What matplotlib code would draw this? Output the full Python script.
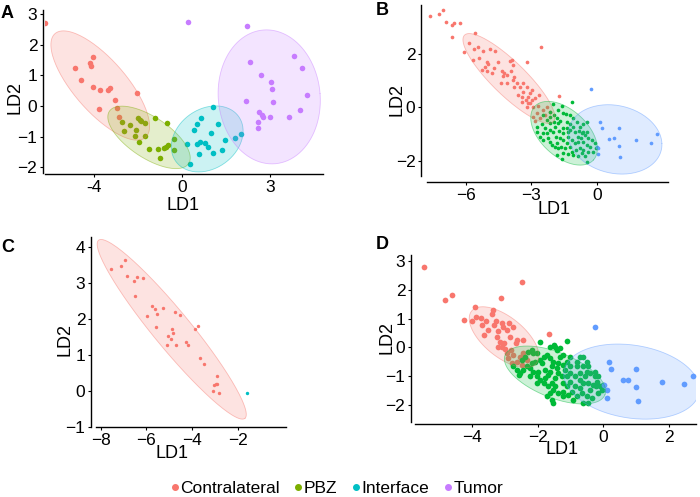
import numpy as np
import matplotlib
matplotlib.use("Agg")
import matplotlib.pyplot as plt
from matplotlib.lines import Line2D

plt.rcParams['font.family'] = ['Liberation Sans', 'DejaVu Sans']

# ggplot default hue palettes
pal4 = ['#F8766D', '#7CAE00', '#00BFC4', '#C77CFF']
pal3 = ['#F8766D', '#00BA38', '#619CFF']
pal2 = ['#F8766D', '#00BFC4']
legend_labels = ['Contralateral', 'PBZ', 'Interface', 'Tumor']

# ---------------- panel A (LD1, LD2) ----------------
a_contra = [(-4.66, 2.71), (-3.03, 1.61), (-3.14, 1.39), (-3.12, 1.31), (-3.66, 1.25),
            (-3.44, 0.84), (-3.02, 0.62), (-2.79, 0.54), (-2.53, 0.52), (-2.45, 0.58),
            (-2.29, 0.21), (-1.53, 0.42), (-2.82, -0.11), (-2.23, -0.05), (-2.14, -0.37)]
a_pbz = [(-2.06, -0.53), (-1.98, -0.81), (-1.78, -0.62), (-1.61, -0.97), (-1.56, -0.79),
         (-1.50, -0.40), (-1.44, -0.46), (-1.41, -0.49), (-1.27, -0.54), (-1.27, -0.97),
         (-1.46, -1.16), (-0.92, -0.40), (-0.51, -0.56), (-1.13, -1.40), (-0.84, -1.40),
         (-0.75, -1.70), (-0.61, -1.38), (-0.56, -1.32), (-0.50, -1.27), (-0.28, -1.07),
         (-0.28, -1.43)]
a_inter = [(0.15, -1.24), (0.26, -1.90), (0.40, -0.78), (0.51, -0.59), (0.63, -0.40),
           (1.03, -0.02), (1.20, -0.59), (0.99, -0.88), (0.49, -1.22), (0.60, -1.16),
           (0.77, -1.19), (0.87, -1.32), (0.56, -1.57), (1.03, -1.52), (1.37, -1.43),
           (1.44, -1.09), (1.80, -1.03), (2.01, -0.92)]
a_tumor = [(0.20, 2.75), (2.21, 2.62), (2.32, 1.44), (3.79, 1.63), (4.08, 1.24),
           (2.68, 1.01), (3.02, 0.77), (3.05, 0.55), (4.26, 0.35), (2.17, 0.15),
           (3.10, 0.12), (2.60, -0.20), (2.71, -0.30), (2.76, -0.37), (2.99, -0.37),
           (3.65, -0.37), (4.02, -0.13), (2.57, -0.53), (2.57, -0.73)]
# ellipses: centre, end of one semi-diameter, end of the conjugate one
a_ell_center = [(-2.79, 0.67), (-1.13, -1.02), (0.85, -1.07), (2.96, 0.30)]
a_ell_major = [(-1.25, -1.02), (0.22, -1.87), (2.06, -0.96), (4.69, 0.41)]
a_ell_minor = [(-2.12, 1.23), (-0.75, -0.46), (1.02, 0.0), (2.78, 2.48)]

# ---------------- panel B ----------------
b_contra = [(-7.66, 3.41), (-7.24, 3.49), (-7.06, 3.63), (-6.94, 3.20), (-6.66, 3.08),
            (-6.54, 3.17), (-6.29, 3.14), (-6.63, 2.62), (-5.59, 2.77), (-6.08, 2.08),
            (-5.88, 2.39), (-5.70, 1.76), (-5.64, 2.17), (-5.45, 2.27), (-5.24, 2.11),
            (-4.90, 2.17), (-4.66, 2.12), (-5.41, 1.83), (-5.13, 1.52), (-5.05, 1.37),
            (-4.81, 1.30), (-5.04, 1.71), (-5.01, 1.64), (-4.36, 1.37), (-4.26, 1.30),
            (-3.98, 1.74), (-3.89, 1.79), (-3.94, 1.37), (-3.20, 1.69), (-2.54, 2.27),
            (-4.41, 0.90), (-4.13, 0.90), (-3.86, 1.02), (-3.80, 0.77), (-3.68, 0.90),
            (-3.52, 0.75), (-3.38, 0.90), (-3.37, 0.59), (-3.22, 0.75), (-3.06, 0.52),
            (-3.60, 0.46), (-3.45, 0.40), (-3.14, 0.40), (-2.99, 0.27), (-3.06, 0.15),
            (-3.25, 0.27), (-2.83, 0.34), (-1.73, 0.44), (-2.91, 0.02), (-3.22, 0.02),
            (-3.78, 1.15), (-4.32, 1.17), (-4.72, 1.46), (-4.13, 1.21), (-2.96, 0.65),
            (-2.66, 0.46), (-2.48, -0.10), (-2.76, -0.22), (-2.94, -0.35), (-2.60, -0.41),
            (-2.37, -0.29), (-2.82, -0.50), (-2.30, 0.02), (-2.14, -0.16), (-2.68, 0.05),
            (-3.14, 0.15), (-3.41, 0.21), (-5.28, 1.40), (-4.52, 1.71), (-3.83, 1.58)]
b_pbz = [(-1.99, 0.12), (-1.59, 0.05), (-1.13, 0.19), (-2.73, -0.72), (-2.53, -0.62),
         (-2.30, -0.47), (-2.14, -0.35), (-1.96, -0.29), (-1.84, -0.41), (-1.68, -0.50),
         (-1.53, -0.22), (-1.38, -0.54), (-1.23, -0.29), (-1.07, -0.41), (-0.92, -0.54),
         (-0.77, -0.72), (-0.61, -0.62), (-0.46, -0.54), (-0.43, -0.91), (-0.54, -1.03),
         (-0.69, -0.97), (-0.80, -0.87), (-1.00, -0.91), (-1.23, -0.85), (-1.38, -0.79),
         (-1.53, -0.79), (-1.72, -0.87), (-1.91, -0.72), (-2.14, -0.85), (-2.30, -0.97),
         (-2.45, -0.95), (-2.60, -1.10), (-2.76, -0.91), (-1.87, -1.10), (-1.68, -1.16),
         (-1.53, -1.22), (-1.30, -1.10), (-1.15, -1.22), (-1.00, -1.35), (-0.84, -1.28),
         (-0.61, -1.28), (-0.46, -1.41), (-0.31, -1.47), (-0.08, -1.35), (-0.03, -1.53),
         (-0.15, -1.66), (-0.38, -1.69), (-0.54, -1.84), (-0.43, -2.03), (-0.61, -1.59),
         (-0.77, -1.53), (-0.95, -1.59), (-1.15, -1.66), (-1.30, -1.74), (-1.53, -1.72),
         (-1.59, -1.92), (-1.76, -1.53), (-1.91, -1.47), (-2.07, -1.41), (-2.14, -1.28),
         (-1.84, -1.35), (-1.64, -1.47), (-1.45, -1.53), (-1.23, -1.47), (-1.07, -1.78),
         (-0.84, -1.84), (-0.69, -1.72), (-1.84, -1.78), (-1.38, -1.35), (-0.73, -1.16),
         (-2.48, -1.22), (-2.22, -1.16), (-1.99, -0.91), (-1.76, -0.60), (-1.53, -0.97),
         (-1.30, -0.91), (-1.07, -0.72), (-0.84, -1.10), (-0.61, -0.91), (-0.38, -1.16),
         (-0.23, -1.22), (-2.14, -0.60), (-2.37, -0.79), (-1.96, -0.55), (-1.23, -0.62),
         (-1.41, -0.25), (-1.79, -0.10), (-2.14, -0.16), (-2.45, -0.29)]
b_inter = [(-0.28, 0.67), (0.17, -0.54), (0.23, -0.79), (0.58, -1.20), (0.77, -1.13),
           (1.01, -0.79), (1.79, -1.22), (2.77, -1.01), (2.47, -1.32), (1.01, -1.43),
           (1.07, -1.87), (0.06, -1.53), (0.08, -1.76), (0.00, -1.47)]
b_ell_center = [(-4.03, 1.08), (-1.50, -0.97), (0.84, -1.20)]
b_ell_major = [(-1.99, -0.54), (-0.15, -1.97), (2.99, -1.35)]
b_ell_minor = [(-3.49, 1.53), (-0.78, -0.32), (0.77, 0.09)]

# ---------------- panel C ----------------
c_contra = [(-7.53, 3.37), (-7.11, 3.46), (-6.94, 3.62), (-6.84, 3.19), (-6.53, 3.05),
            (-6.40, 3.17), (-6.17, 3.13), (-6.52, 2.62), (-5.98, 2.09), (-5.78, 2.37),
            (-5.62, 2.27), (-5.56, 2.14), (-5.30, 2.29), (-5.60, 1.76), (-4.76, 2.18),
            (-4.54, 2.11), (-5.08, 1.52), (-4.95, 1.43), (-4.87, 1.71), (-4.83, 1.62),
            (-5.09, 1.28), (-4.72, 1.28), (-4.26, 1.35), (-4.18, 1.27), (-3.87, 1.73),
            (-3.77, 1.79), (-3.67, 0.92), (-3.49, 0.74), (-2.91, 0.42), (-2.99, 0.20),
            (-3.04, 0.17), (-2.94, 0.19), (-3.12, 0.01), (-2.84, -0.05)]
c_inter = [(-1.60, -0.06)]
c_ell_center = [(-4.90, 1.71)]
c_ell_major = [(-1.71, -0.76)]
c_ell_minor = [(-4.28, 2.04)]

# ---------------- panel D ----------------
d_contra = [(-5.45, 2.79), (-4.83, 1.65), (-4.59, 1.81), (-4.24, 0.94), (-4.00, 0.93),
            (-3.90, 1.42), (-3.87, 1.05), (-3.73, 1.01), (-3.62, 0.42), (-3.58, 0.93),
            (-3.39, 1.15), (-3.36, 1.30), (-3.34, 0.76), (-3.11, 1.71), (-3.24, 0.37),
            (-3.19, 0.55), (-3.09, 0.84), (-3.04, 0.72), (-3.02, 0.14), (-2.94, 0.60),
            (-2.86, 0.86), (-2.84, 0.37), (-2.74, 0.72), (-2.66, 0.14), (-2.63, 0.26),
            (-2.99, -0.06), (-2.81, -0.09), (-3.14, 0.20), (-2.46, 2.29), (-1.66, 0.45),
            (-2.89, -0.38), (-2.74, -0.27), (-2.63, -0.50), (-2.53, -0.33), (-2.43, -0.21),
            (-2.33, -0.44), (-2.48, -0.62), (-2.79, -0.56), (-2.94, -0.21), (-3.07, 0.02),
            (-2.43, 0.26), (-3.19, 0.00), (-3.70, 0.78), (-3.50, 0.60), (-3.27, 0.93)]
d_pbz = [(-1.92, 0.17), (-1.50, 0.08), (-1.09, 0.22), (-1.47, 0.00), (-1.42, -0.09),
         (-2.18, -0.09), (-2.03, -0.21), (-1.82, -0.33), (-1.72, -0.27), (-1.62, -0.38),
         (-1.52, -0.50), (-1.37, -0.56), (-1.22, -0.62), (-1.11, -0.50), (-0.71, -0.35),
         (-0.81, -0.67), (-0.61, -0.67), (-0.51, -0.50), (-0.46, -0.67), (-0.41, -0.91),
         (-0.25, -1.02), (-0.20, -1.20), (-0.10, -1.37), (-0.05, -1.49), (0.00, -1.31),
         (-0.15, -1.60), (-0.41, -1.49), (-0.51, -1.72), (-0.66, -1.60), (-0.71, -1.43),
         (-0.86, -1.37), (-0.96, -1.55), (-1.06, -1.66), (-1.11, -1.37), (-1.22, -1.26),
         (-1.27, -1.02), (-1.37, -0.91), (-1.47, -1.08), (-1.57, -1.26), (-1.67, -1.37),
         (-1.82, -1.26), (-1.92, -1.14), (-2.03, -1.02), (-2.13, -0.85), (-2.23, -0.73),
         (-2.33, -0.67), (-2.43, -0.79), (-2.53, -0.91), (-2.63, -0.79), (-2.74, -0.67),
         (-2.23, -1.02), (-1.98, -0.85), (-1.77, -0.79), (-1.62, -0.85), (-1.42, -0.73),
         (-1.17, -0.79), (-1.01, -0.91), (-0.86, -1.02), (-0.71, -1.14), (-0.61, -1.26),
         (-0.46, -1.26), (-0.30, -1.31), (-0.56, -1.02), (-0.71, -0.91), (-1.01, -0.67),
         (-1.32, -0.33), (-1.57, -0.67), (-1.87, -0.56), (-2.08, -0.50), (-2.18, -0.56),
         (-2.38, -0.33), (-2.48, -0.44), (-2.56, -0.97), (-1.67, -0.97), (-1.52, -1.49),
         (-1.57, -1.84), (-1.54, -1.93), (-1.37, -1.60), (-1.22, -1.55), (-0.81, -1.72),
         (-0.61, -1.95), (-0.46, -1.95), (-0.35, -1.78), (-0.22, -1.37), (-0.15, -1.02),
         (-1.01, -1.20), (-1.11, -1.02), (-1.47, -1.37), (-1.77, -1.08), (-2.03, -1.26),
         (-1.92, -0.44), (-2.13, -0.21), (-2.28, -0.15), (-1.62, 0.02), (-1.32, -0.03),
         (-1.22, -0.27), (-1.01, -0.33), (-0.81, -0.50), (-0.61, -0.33), (-0.25, -0.85),
         (-0.49, -0.85), (-1.72, -1.72), (-1.22, -1.72), (-0.91, -1.84), (-1.62, -1.60)]
d_inter = [(-0.25, 0.70), (0.17, -0.52), (0.22, -0.77), (0.59, -1.16), (0.76, -1.14),
           (0.99, -0.77), (0.99, -1.40), (1.07, -1.86), (1.79, -1.20), (2.44, -1.28),
           (2.74, -0.99), (0.11, -1.51), (0.10, -1.76), (0.02, -1.31)]
d_ell_center = [(-3.02, 0.35), (-1.47, -0.97), (0.86, -1.20)]
d_ell_major = [(-2.03, -0.56), (0.05, -1.66), (2.92, -1.37)]
d_ell_minor = [(-2.64, 0.90), (-1.22, -0.23), (0.71, 0.10)]

W, H = 700, 497
fig = plt.figure(figsize=(W / 100, H / 100), dpi=100)


def draw_ellipse(ax, center, tip_a, tip_b, color):
    c = np.array(center)
    u = np.array(tip_a) - c
    v = np.array(tip_b) - c
    t = np.linspace(0, 2 * np.pi, 200)
    pts = c[:, None] + np.outer(u, np.cos(t)) + np.outer(v, np.sin(t))
    ax.fill(pts[0], pts[1], facecolor=color, alpha=0.2, zorder=3, lw=0)
    ax.plot(pts[0], pts[1], color=color, alpha=0.45, lw=0.6, zorder=3)


def panel(box, groups, colors, size, centers, majors, minors, letter, letter_px,
          xlim, ylim, xticks, yticks, xlab_px, ylab_px, xticklabels=None,
          left_off=3, bottom_off=2):
    left, top, right, bottom = box
    ax = fig.add_axes([left / W, 1 - bottom / H, (right - left) / W, (bottom - top) / H])
    for pts, col in zip(groups, colors):
        arr = np.array(pts)
        ax.scatter(arr[:, 0], arr[:, 1], s=size, color=col, lw=0, zorder=2)
    for c, a, b, col in zip(centers, majors, minors, colors):
        draw_ellipse(ax, c, a, b, col)
    ax.set_xlim(xlim)
    ax.set_ylim(ylim)
    ax.set_xticks(xticks)
    if xticklabels is not None:
        ax.set_xticklabels(xticklabels)
    ax.set_yticks(yticks)
    for side in ['top', 'right']:
        ax.spines[side].set_visible(False)
    ax.spines['left'].set_position(('outward', left_off))
    ax.spines['bottom'].set_position(('outward', bottom_off))
    for side in ['left', 'bottom']:
        ax.spines[side].set_linewidth(1.0)
    ax.tick_params(labelsize=12.5, length=2.5, width=0.8, pad=1.5, colors='black')
    ax.set_xlabel('LD1', fontsize=13, va='center')
    ax.set_ylabel('LD2', fontsize=13, va='center')
    w, h = right - left, bottom - top
    ax.xaxis.set_label_coords((xlab_px[0] - left) / w, (bottom - xlab_px[1]) / h)
    ax.yaxis.set_label_coords((ylab_px[0] - left) / w, (bottom - ylab_px[1]) / h)
    fig.text(letter_px[0] / W, 1 - letter_px[1] / H, letter, fontsize=13,
             fontweight='bold', ha='left', va='top')
    return ax


# the reference labels its left A tick "-4" although it sits one step from 0
panel((45, 10, 323, 173), [a_contra, a_pbz, a_inter, a_tumor], pal4, 16,
      a_ell_center, a_ell_major, a_ell_minor, 'A', (1, 5),
      (-4.67, 4.79), (-2.18, 3.13), [-3, 0, 3], [-2, -1, 0, 1, 2, 3],
      (183, 206), (15, 97), xticklabels=['-4', '0', '3'],
      left_off=1.5, bottom_off=0.7)
panel((427, 5, 668, 176), [b_contra, b_pbz, b_inter], pal3, 7,
      b_ell_center, b_ell_major, b_ell_minor, 'B', (376, 2),
      (-7.79, 3.27), (-2.57, 3.83), [-6, -3, 0], [-2, 0, 2],
      (554, 210), (397, 100), left_off=4.3, bottom_off=4.3)
panel((96, 237, 286, 427), [c_contra, c_inter], pal2, 6,
      c_ell_center, c_ell_major, c_ell_minor, 'C', (1, 239),
      (-8.2, 0.08), (-1.0, 4.27), [-8, -6, -4, -2], [-1, 0, 1, 2, 3, 4],
      (172, 454), (65, 340), left_off=3.6, bottom_off=0)
panel((415, 255, 696, 421.7), [d_contra, d_pbz, d_inter], pal3, 17,
      d_ell_center, d_ell_major, d_ell_minor, 'D', (376, 236),
      (-5.73, 2.82), (-2.60, 3.22), [-4, -2, 0, 2], [-2, -1, 0, 1, 2, 3],
      (562, 449), (387, 338), left_off=3, bottom_off=1.8)

handles = [Line2D([], [], marker='o', ls='', color=c, markersize=4) for c in pal4]
fig.legend(handles, legend_labels, loc='center', bbox_to_anchor=(0.478, 0.018),
           ncol=4, frameon=False, fontsize=12.5, handletextpad=-0.2,
           columnspacing=0.6, handlelength=1.0, borderpad=0)

fig.savefig('out.png', dpi=100)
